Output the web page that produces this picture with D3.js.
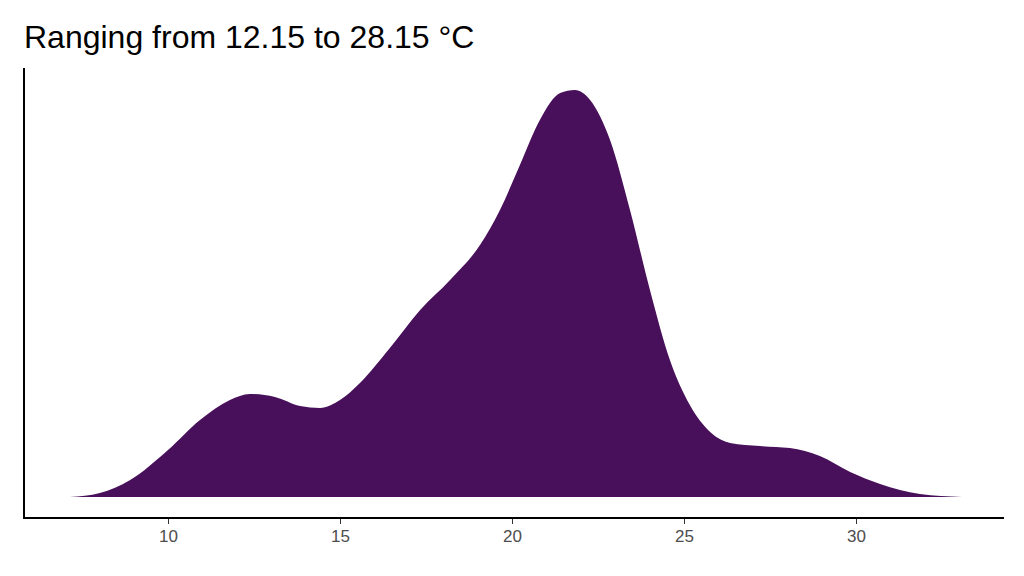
<!DOCTYPE html>
<html><head><meta charset="utf-8">
<script src="https://cdn.jsdelivr.net/npm/d3@7"></script>
<style>body{margin:0;background:#fff}svg{font-family:"Liberation Sans",Arial,sans-serif}</style>
</head><body>
<svg id="chart" width="1024" height="576"></svg>
<script>
const temps = [7.15,8.02,8.90,10,10.93,11.80,12.38,13.11,13.84,14.42,15.0,15.58,16.45,17.33,18.20,19.07,19.65,20.23,20.81,21.40,21.83,22.27,22.85,23.43,24.01,24.59,25.17,25.76,26.34,27.21,28.08,28.95,29.83,30.70,31.86,33.08];
const density = [0,0.001,0.00425,0.01175,0.01925,0.02425,0.02575,0.025,0.02275,0.02225,0.02425,0.0285,0.03725,0.04675,0.05425,0.063,0.07175,0.083,0.09425,0.101,0.10175,0.09925,0.08925,0.07175,0.05175,0.03425,0.023,0.01625,0.0135,0.01275,0.01225,0.01025,0.00625,0.00325,0.00075,0];
const xTicks = [10,15,20,25,30];
const title = "Ranging from 12.15 to 28.15 °C";

const svg = d3.select("#chart");
const x = d3.scaleLinear().domain([10,30]).range([168,856]);
const y = d3.scaleLinear().domain([0,0.10175]).range([497,90]);
const pts = temps.map((t,i)=>[t,density[i]]);

svg.append("path")
  .datum(pts)
  .attr("fill","#48105a")
  .attr("d", d3.area().x(d=>x(d[0])).y0(y(0)).y1(d=>y(d[1])).curve(d3.curveMonotoneX));

const xAxis = svg.append("g").attr("transform","translate(0,518)")
  .call(d3.axisBottom(x).tickValues(xTicks).tickSize(6).tickPadding(6));
xAxis.select(".domain").remove();
xAxis.selectAll("line").attr("stroke","#333");
xAxis.selectAll("text").attr("fill","#4d4d4d").style("font-size","17px");

svg.append("line").attr("x1",24).attr("x2",1004).attr("y1",518).attr("y2",518).attr("stroke","#000").attr("stroke-width",2);
svg.append("line").attr("x1",24).attr("x2",24).attr("y1",68).attr("y2",519).attr("stroke","#000").attr("stroke-width",2);

svg.append("text").attr("x",24).attr("y",48).style("font-size","32px").attr("fill","#000").text(title);
</script>
</body></html>
